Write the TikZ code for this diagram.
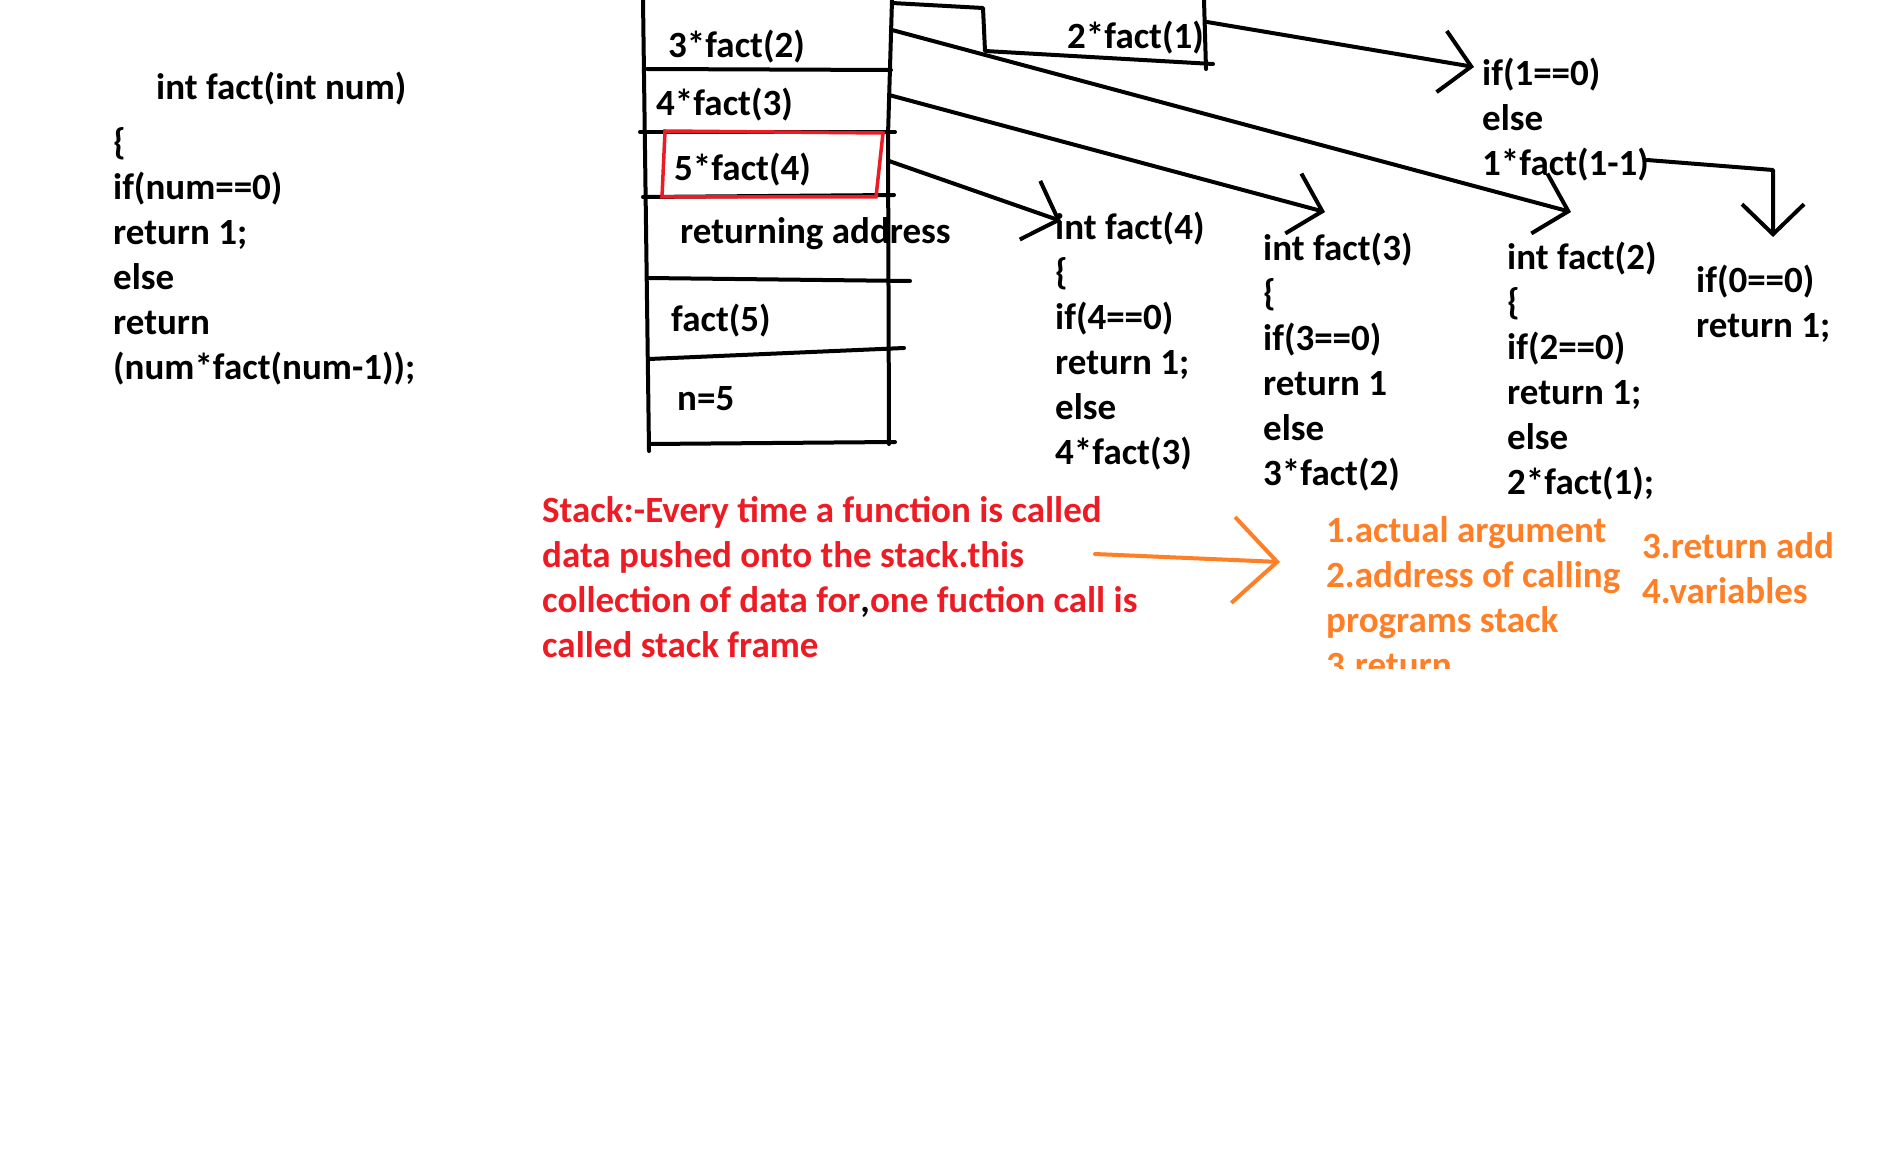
\documentclass[tikz,border=0pt]{standalone}
\usepackage{fontspec}
\setmainfont{Carlito}
\usetikzlibrary{arrows.meta}

\definecolor{paintred}{HTML}{ED1C24}
\definecolor{paintorange}{HTML}{FF7F27}

\begin{document}
\begin{tikzpicture}[x=1pt,y=-1pt,>/.tip={Straight Barb[length=30pt,width=62pt]},
	code/.style={anchor=base west,inner sep=0pt,align=left,font=\bfseries\fontsize{37}{45}\selectfont},
	pen/.style={line width=4pt,line cap=round,line join=round}]
	\useasboundingbox[fill=white] (0,0) rectangle (1902,1169);
	% source of fact (multi-line nodes sit on their last line)
	\node[code] (head) at (156,100) {int fact(int num)};
	\node[code] (body) at (113,379) {\{\\if(num==0)\\return 1;\\else\\return\\(num*fact(num-1));};
	% the stack
	\draw[pen] (643,0) -- (649,451);
	\draw[pen] (892,0) -- (888,135) -- (889,444);
	\draw[pen] (647,69) -- (891,70);
	\draw[pen] (640,132) -- (895,132);
	\draw[pen] (643,197) -- (894,195);
	\draw[pen] (647,278) -- (910,281);
	\draw[pen] (649,359) -- (904,348);
	\draw[pen] (649,444) -- (895,442);
	\node[code] (s3) at (668,58) {3*fact(2)};
	\node[code] (s4) at (656,116) {4*fact(3)};
	\node[code] (s5) at (674,181) {5*fact(4)};
	\node[code] (ret) at (680,243) {returning address};
	\node[code] (s6) at (671,331) {fact(5)};
	\node[code] (n) at (677,410) {n=5};
	\draw[paintred,line width=3.5pt] (665,131) -- (883,133) -- (876,197) -- (662,197) -- cycle;
	% frame on top
	\draw[pen] (892,3) -- (983,8) -- (985,51) -- (1213,64);
	\draw[pen] (1204,0) -- (1206,69);
	\node[code] (s2) at (1067,49) {2*fact(1)};
	% the calls
	\node[code] (f4) at (1055,464) {int fact(4)\\\{\\if(4==0)\\return 1;\\else\\4*fact(3)};
	\node[code] (f3) at (1263,485) {int fact(3)\\\{\\if(3==0)\\return 1\\else\\3*fact(2)};
	\node[code] (f2) at (1507,494) {int fact(2)\\\{\\if(2==0)\\return 1;\\else\\2*fact(1);};
	\node[code] (f1) at (1482,176) {if(1==0)\\else\\1*fact(1-1)};
	\node[code] (f0) at (1696,337) {if(0==0)\\return 1;};
	\coordinate (outA) at (892,30);
	\coordinate (outB) at (889,95);
	\coordinate (outC) at (889,161);
	\coordinate (outD) at (1207,22);
	\coordinate (outE) at (1647,160);
	\coordinate (tipA) at (1571,212);
	\coordinate (tipB) at (1325,212);
	\coordinate (tipC) at (1061,221);
	\coordinate (tipD) at (1474,67);
	\coordinate (tipE) at (1773,237);
	\draw[pen,->] (outA) -- (tipA);
	\draw[pen,->] (outB) -- (tipB);
	\draw[pen,->] (outC) -- (tipC);
	\draw[pen,->] (outD) -- (tipD);
	\draw[pen,->] (outE) -- (1773,170) -- (tipE);
	% stack frame note
	\node[code,text=paintred] (note) at (542,657) {Stack:-Every time a function is called\\data pushed onto the stack.this\\collection of data for{\color{black},}one fuction call is\\called stack frame};
	\coordinate (noteR) at (1095,554);
	\coordinate (noteT) at (1280,562);
	\draw[pen,paintorange,-{Straight Barb[length=44pt,width=86pt]}] (noteR) -- (noteT);
	\begin{scope}
		\clip (1300,480) rectangle (1902,668);
		\node[code,text=paintorange] (parts) at (1326,677) {1.actual argument\\2.address of calling\\programs stack\\3.return};
	\end{scope}
	\node[code,text=paintorange] (more) at (1642,603) {3.return add\\4.variables};
\end{tikzpicture}
\end{document}
